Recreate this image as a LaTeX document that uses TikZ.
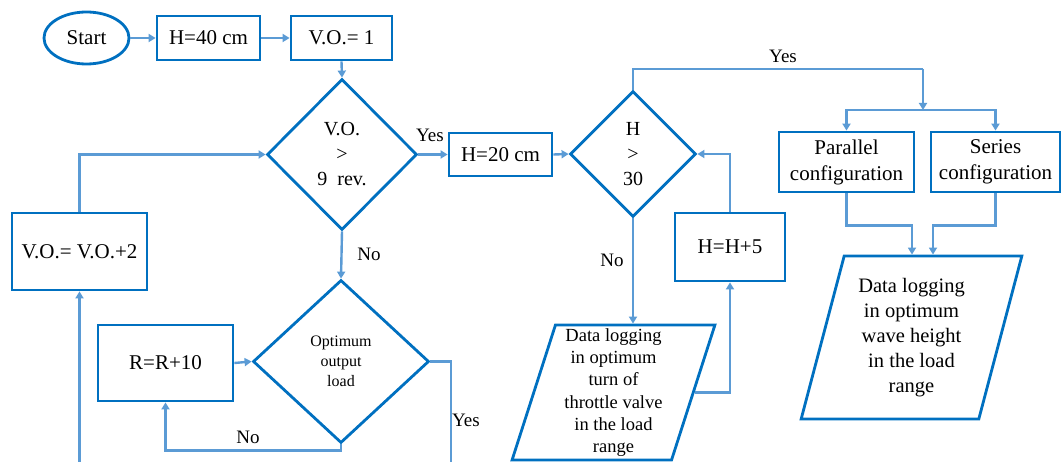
\documentclass[tikz,border=0pt]{standalone}
\usepackage{fontspec}
\setmainfont{Liberation Serif}
\usetikzlibrary{shapes.geometric,arrows.meta,calc}
\definecolor{boxblue}{HTML}{0070C0}
\definecolor{arrblue}{HTML}{5B9BD5}
\begin{document}
\begin{tikzpicture}[x=1pt,y=-1pt,
  base/.style={draw=boxblue,line width=2.8pt,inner sep=0pt,align=center,text=black},
  box/.style={base,rectangle,font=\fontsize{21}{26}\selectfont},
  dec/.style={base,diamond,font=\fontsize{20}{25}\selectfont},
  io/.style={base,trapezium,trapezium left angle=74,trapezium right angle=106,trapezium stretches=true},
  conn/.style={draw=arrblue,line width=2.4pt},
  arr/.style={conn,-{Triangle[length=7pt,width=8pt]}},
  lab/.style={font=\fontsize{19}{22}\selectfont,inner sep=0pt}
]
\useasboundingbox (0,0) rectangle (1061,462);

% nodes
\node[base,ellipse,minimum width=85pt,minimum height=52pt,font=\fontsize{21}{26}\selectfont] (start) at (86.5,38) {Start};
\node[box,minimum width=103pt,minimum height=44pt] (h40) at (208.5,38) {H=40 cm};
\node[box,minimum width=101pt,minimum height=44pt] (vo1) at (341.5,38) {V.O.= 1};
\node[dec,minimum width=150pt,minimum height=151pt] (d1) at (342,154.5) {V.O.\\>\\9~~rev.};
\node[box,minimum width=135pt,minimum height=77pt] (vog) at (79.5,251.5) {V.O.= V.O.+2};
\node[dec,minimum width=176pt,minimum height=163pt,font=\fontsize{16}{20}\selectfont] (d2) at (341,361.5) {Optimum\\output\\load};
\node[box,minimum width=135pt,minimum height=76pt] (r10) at (165.5,363) {R=R+10};
\node[box,minimum width=103pt,minimum height=43pt] (h20) at (500.5,154.5) {H=20 cm};
\node[dec,minimum width=126pt,minimum height=126pt] (d3) at (633,154) {H\\>\\30};
\node[box,minimum width=110pt,minimum height=68pt] (h5) at (730,247) {H=H+5};
\node[box,minimum width=135pt,minimum height=60pt] (par) at (846.5,162) {Parallel\\configuration};
\node[box,minimum width=129pt,minimum height=60pt] (ser) at (995.5,162) {Series\\configuration};
\node[io,minimum width=203pt,minimum height=135pt,font=\fontsize{18.5}{22.2}\selectfont] (p1) at (613.5,392.5)
  {Data logging\\in optimum\\turn of\\throttle valve\\in the load\\range};
\node[io,minimum width=221pt,minimum height=163pt,font=\fontsize{20.5}{25}\selectfont] (p2) at (911.5,337.5)
  {Data logging\\in optimum\\wave height\\in the load\\range};

% free coordinates
\coordinate (vogin) at (79.5,462);
\coordinate (d2out) at (451,462);
\coordinate (jt) at (923,69);
\coordinate (jn) at (923,110);

% connectors
\draw[arr] (start.east) -- (h40.west);
\draw[arr] (h40.east) -- (vo1.west);
\draw[arr] (vo1.south) -- (d1.north);
\draw[arr] (vog.north) |- (d1.west);
\draw[arr] (vogin) -- (vog.south);
\draw[arr] (d1.south) -- (d2.north);
\draw[arr] (r10.east) -- (d2.west);
\draw[arr] (d2.south) -- ++(0,6) -| (r10.south);
\draw[conn] (d2.east) -| (d2out);
\draw[arr] (d1.east) -- (h20.west);
\draw[arr] (h20.east) -- (d3.west);
\draw[conn] (d3.north) |- (jt);
\draw[arr] (jt) -- (jn);
\draw[arr] (jn) -| (par.north);
\draw[arr] (jn) -| (ser.north);
\draw[arr] (par.south) -- ++(0,32) -| ($(p2.north)+(0.5,0)$);
\draw[arr] (ser.south) -- ++(0,32) -| ($(p2.north)+(21.5,0)$);
\draw[arr] (d3.south) -- (d3.south |- p1.north);
\draw[arr] (p1.east) -| (h5.south);
\draw[arr] (h5.north) |- (d3.east);

% labels
\node[lab] (lyes1) at (430,135) {Yes};
\node[lab] (lno1) at (369,254) {No};
\node[lab] (lno2) at (248,437) {No};
\node[lab] (lyes2) at (466,420) {Yes};
\node[lab] (lno3) at (612,260) {No};
\node[lab] (lyes3) at (783,56) {Yes};
\end{tikzpicture}
\end{document}
